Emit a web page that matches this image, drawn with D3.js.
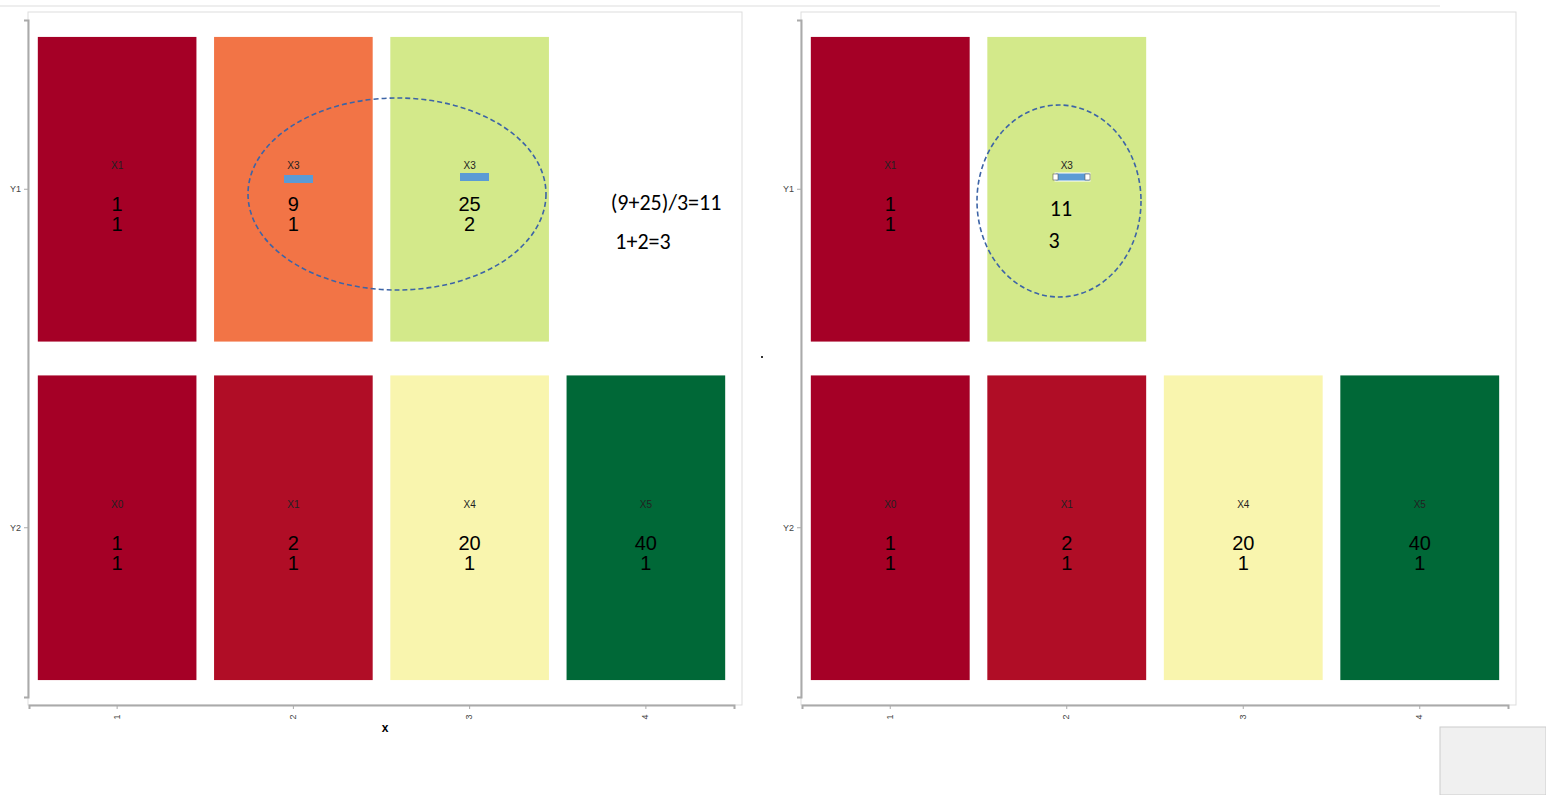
<!DOCTYPE html><html><head><meta charset="utf-8"><script src="https://cdn.jsdelivr.net/npm/d3@7"></script>
<style>body{margin:0;background:#fff}</style></head><body><svg id="c" width="1546" height="795"></svg>
<script>
const xCats=["1","2","3","4"], yCats=["Y1","Y2"];
const leftX=[1,2,3,1,2,3,4], leftY=["Y1","Y1","Y1","Y2","Y2","Y2","Y2"];
const leftLab=["X1","X3","X3","X0","X1","X4","X5"];
const leftV1=[1,9,25,1,2,20,40], leftV2=[1,1,2,1,1,1,1];
const leftCol=["#a50026","#f27446","#d3e98a","#a50026","#b00d26","#f9f5ae","#006837"];
const rightX=[1,2,1,2,3,4], rightY=["Y1","Y1","Y2","Y2","Y2","Y2"];
const rightLab=["X1","X3","X0","X1","X4","X5"];
const rightV1=[1,null,1,2,20,40], rightV2=[1,null,1,1,1,1];
const rightCol=["#a50026","#d3e98a","#a50026","#b00d26","#f9f5ae","#006837"];
const svg=d3.select("#c");
svg.append("line").attr("x1",0).attr("x2",1440).attr("y1",6).attr("y2",6).attr("stroke","#ddd");
svg.append("rect").attr("x",1440).attr("y",727).attr("width",106).attr("height",68).attr("fill","#f0f0f0").attr("stroke","#ccc");
svg.append("rect").attr("x",761).attr("y",356).attr("width",2).attr("height",2).attr("fill","#333");
function panel(x0,x1,X,Y,L,V1,V2,C,xlab){
  const g=svg.append("g");
  g.append("rect").attr("x",x0).attr("y",12).attr("width",x1-x0).attr("height",693).attr("fill","#fff").attr("stroke","#ddd");
  const x=d3.scaleBand().domain(xCats).range([x0+1,x1-8]).paddingInner(0.1).paddingOuter(0.05);
  const y=d3.scaleBand().domain(yCats).range([20,697]).paddingInner(0.1).paddingOuter(0.05);
  X.forEach((xi,i)=>{
    const cx=x(String(xi)), cy=y(Y[i]);
    g.append("rect").attr("x",cx).attr("y",cy).attr("width",x.bandwidth()).attr("height",y.bandwidth()).attr("fill",C[i]);
    const mx=cx+x.bandwidth()/2, my=cy+y.bandwidth()/2;
    g.append("text").attr("x",mx).attr("y",my-20).attr("text-anchor","middle").attr("font-family","Arial, Liberation Sans").attr("font-size",10).attr("fill","#222").text(L[i]);
    if(V1[i]!=null){
      g.append("text").attr("x",mx).attr("y",my+22).attr("text-anchor","middle").attr("font-family","Arial, Liberation Sans").attr("font-size",20).text(V1[i]);
      g.append("text").attr("x",mx).attr("y",my+42).attr("text-anchor","middle").attr("font-family","Arial, Liberation Sans").attr("font-size",20).text(V2[i]);
    }
  });
  const ax=g.append("g").attr("transform",`translate(0,705)`).call(d3.axisBottom(x).tickSize(4));
  ax.select(".domain").attr("stroke","#aaa").attr("stroke-width",2);
  ax.selectAll(".tick line").attr("stroke","#aaa");
  ax.selectAll("text").attr("transform","rotate(-90)").attr("x",-12).attr("y",-4).attr("text-anchor","middle").attr("font-size",9).attr("fill","#444");
  const ay=g.append("g").attr("transform",`translate(${x0},0)`).call(d3.axisLeft(y).tickSize(4));
  ay.select(".domain").attr("stroke","#aaa").attr("stroke-width",2);
  ay.selectAll(".tick line").attr("stroke","#aaa");
  ay.selectAll("text").attr("font-size",9).attr("fill","#444");
  g.append("text").attr("x",(x0+x1)/2).attr("y",732).attr("text-anchor","middle").attr("font-family","Arial").attr("font-size",12).attr("font-weight","bold").text(xlab);
  return {x,y,g};
}
const L=panel(28,742,leftX,leftY,leftLab,leftV1,leftV2,leftCol,"x");
const R=panel(801,1516,rightX,rightY,rightLab,rightV1,rightV2,rightCol,"");
const ff="Calibri, Carlito, 'Open Sans', sans-serif";
[[284,175],[460,173]].forEach(([a,b])=>svg.append("rect").attr("x",a).attr("y",b).attr("width",29).attr("height",8).attr("fill","#5b9bd5"));
svg.append("rect").attr("x",1055).attr("y",173).attr("width",35).attr("height",8).attr("fill","#5b9bd5").attr("stroke","#fff");
[1056,1088].forEach(a=>svg.append("rect").attr("x",a-3).attr("y",174).attr("width",5).attr("height",6).attr("fill","#fff").attr("stroke","#555").attr("stroke-width",0.6));
svg.append("ellipse").attr("cx",397).attr("cy",194).attr("rx",149).attr("ry",96).attr("fill","none").attr("stroke","#3d64a6").attr("stroke-width",1.6).attr("stroke-dasharray","5,3");
svg.append("ellipse").attr("cx",1059).attr("cy",201).attr("rx",82).attr("ry",96).attr("fill","none").attr("stroke","#3d64a6").attr("stroke-width",1.6).attr("stroke-dasharray","5,3");
svg.append("text").attr("x",666).attr("y",210).attr("text-anchor","middle").attr("font-family",ff).attr("font-size",22).text("(9+25)/3=11");
svg.append("text").attr("x",643).attr("y",249).attr("text-anchor","middle").attr("font-family",ff).attr("font-size",22).text("1+2=3");
svg.append("text").attr("x",1061).attr("y",216).attr("text-anchor","middle").attr("font-family",ff).attr("font-size",22).text("11");
svg.append("text").attr("x",1054).attr("y",248).attr("text-anchor","middle").attr("font-family",ff).attr("font-size",22).text("3");
</script></body></html>
